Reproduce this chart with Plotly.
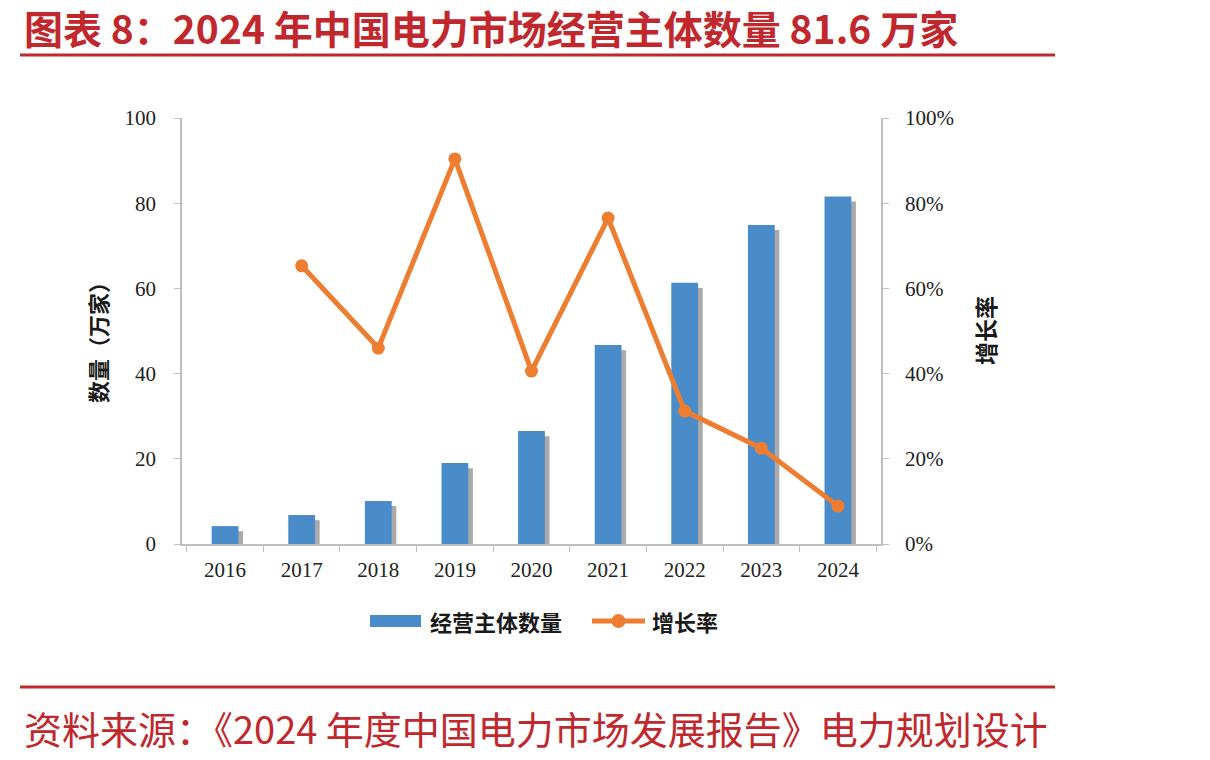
import plotly.graph_objects as go

years = ["2016", "2017", "2018", "2019", "2020", "2021", "2022", "2023", "2024"]
entities = [4.2, 6.8, 10.1, 19.0, 26.5, 46.7, 61.3, 74.9, 81.6]
growth = [None, 0.653, 0.460, 0.904, 0.406, 0.765, 0.312, 0.225, 0.089]
y_ticks = [0, 20, 40, 60, 80, 100]
y2_ticks = [0, 0.2, 0.4, 0.6, 0.8, 1.0]

title_text = "图表 8：2024 年中国电力市场经营主体数量 81.6 万家"
source_text = "资料来源：《2024 年度中国电力市场发展报告》电力规划设计"
bar_name = "经营主体数量"
line_name = "增长率"

W, H = 1210, 760
L, R, T, B = 182, 881, 118, 544
PW, PH = R - L, B - T

def px(x):
    return (x - L) / PW

def py(y):
    return (B - y) / PH

RED = "#C0282E"
BLUE = "#4A8BC9"
ORANGE = "#ED7D31"
AXIS = "#BFBFBF"
SERIF = "Liberation Serif"
CJK = "Noto Sans CJK SC"

fig = go.Figure()

# bar shadow (drawn beneath the bars, shifted right and slightly down)
fig.add_trace(go.Bar(
    x=years, y=entities, width=0.35, offset=-0.175 + 0.06, base=-1.2,
    marker=dict(color="rgba(100,100,100,0.55)", line=dict(width=0)),
    showlegend=False, hoverinfo="skip",
))
fig.add_trace(go.Bar(
    x=years, y=entities, name=bar_name, width=0.35, offset=-0.175,
    marker=dict(color=BLUE, line=dict(width=0)), showlegend=False,
))
fig.add_trace(go.Scatter(
    x=years, y=growth, name=line_name, yaxis="y2", mode="lines+markers",
    line=dict(color=ORANGE, width=5),
    marker=dict(color=ORANGE, size=13),
    connectgaps=False, showlegend=False,
))

tickfont = dict(family=SERIF, size=21, color="#222")

fig.update_layout(
    width=W, height=H, autosize=False,
    margin=dict(l=L, r=W - R, t=T, b=H - B),
    paper_bgcolor="white", plot_bgcolor="white",
    barmode="overlay",
    xaxis=dict(
        type="category", showline=True, linecolor=AXIS, linewidth=1.5,
        ticks="outside", tickson="boundaries", ticklen=6, tickcolor=AXIS,
        tickfont=tickfont, showgrid=False, zeroline=False,
        ticklabelstandoff=6,
    ),
    yaxis=dict(
        range=[0, 100], tickvals=y_ticks, showline=True, linecolor=AXIS, linewidth=1.5,
        ticks="outside", ticklen=6, tickcolor=AXIS, tickfont=tickfont,
        showgrid=False, zeroline=False, ticklabelstandoff=14,
    ),
    yaxis2=dict(
        range=[0, 1], tickvals=y2_ticks, tickformat=".0%", overlaying="y", side="right",
        showline=True, linecolor=AXIS, linewidth=1.5,
        ticks="outside", ticklen=6, tickcolor=AXIS, tickfont=tickfont,
        showgrid=False, zeroline=False, ticklabelstandoff=12,
    ),
)

shapes = [
    dict(type="line", xref="paper", yref="paper", x0=px(20), x1=px(1055),
         y0=py(55), y1=py(55), line=dict(color=RED, width=3)),
    dict(type="line", xref="paper", yref="paper", x0=px(20), x1=px(1055),
         y0=py(687), y1=py(687), line=dict(color=RED, width=3)),
    # legend symbols
    dict(type="rect", xref="paper", yref="paper", x0=px(370), x1=px(421),
         y0=py(627), y1=py(615), line=dict(width=0), fillcolor=BLUE),
    dict(type="line", xref="paper", yref="paper", x0=px(592), x1=px(645),
         y0=py(621), y1=py(621), line=dict(color=ORANGE, width=5)),
    dict(type="circle", xref="paper", yref="paper", x0=px(611.5), x1=px(625.5),
         y0=py(628), y1=py(614), line=dict(width=0), fillcolor=ORANGE),
]
fig.update_layout(shapes=shapes)

annotations = [
    dict(text=f"<b>{title_text}</b>", xref="paper", yref="paper", x=px(22), y=py(27),
         xanchor="left", yanchor="middle", showarrow=False,
         font=dict(family=CJK, size=39, color=RED)),
    dict(text=source_text, xref="paper", yref="paper", x=px(22), y=py(727),
         xanchor="left", yanchor="middle", showarrow=False,
         font=dict(family=CJK, size=38, color=RED)),
    dict(text="<b>数量（万家）</b>", xref="paper", yref="paper", x=px(97), y=py(337),
         xanchor="center", yanchor="middle", showarrow=False, textangle=-90,
         font=dict(family=CJK, size=22, color="#1a1a1a")),
    dict(text="<b>增长率</b>", xref="paper", yref="paper", x=px(985), y=py(331),
         xanchor="center", yanchor="middle", showarrow=False, textangle=-90,
         font=dict(family=CJK, size=23, color="#1a1a1a")),
    dict(text=f"<b>{bar_name}</b>", xref="paper", yref="paper", x=px(428), y=py(621),
         xanchor="left", yanchor="middle", showarrow=False,
         font=dict(family=CJK, size=22, color="#1a1a1a")),
    dict(text=f"<b>{line_name}</b>", xref="paper", yref="paper", x=px(650), y=py(621),
         xanchor="left", yanchor="middle", showarrow=False,
         font=dict(family=CJK, size=22, color="#1a1a1a")),
]
fig.update_layout(annotations=annotations)

fig.write_html("out.html")
